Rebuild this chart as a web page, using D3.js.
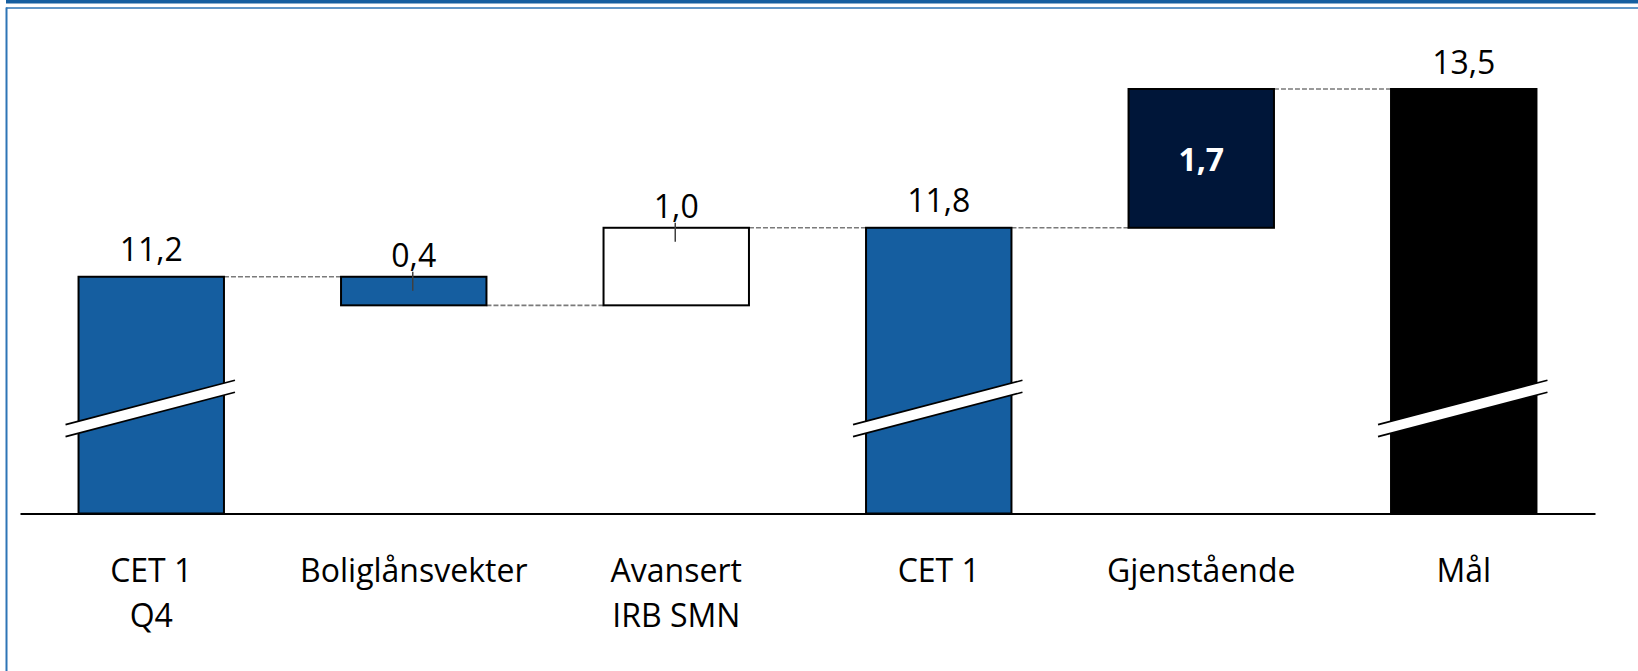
<!DOCTYPE html>
<html>
<head>
<meta charset="utf-8">
<script src="https://cdn.jsdelivr.net/npm/d3@7"></script>
<style>
  html, body { margin: 0; padding: 0; background: #fff; }
  svg { display: block; }
  svg text { font-family: "Open Sans", sans-serif; }
</style>
</head>
<body>
<div id="chart"></div>
<script>
// chart data
const categories = [["CET 1", "Q4"], ["Boliglånsvekter"], ["Avansert", "IRB SMN"], ["CET 1"], ["Gjenstående"], ["Mål"]];
const kinds = ["total", "delta", "delta", "total", "delta", "total"];
const values = [11.2, -0.35, 0.95, 11.8, 1.7, 13.5];
const valueLabels = ["11,2", "0,4", "1,0", "11,8", "1,7", "13,5"];
const axisBase = 8.3;

// styles
const fills = ["#155ea0", "#155ea0", "#ffffff", "#155ea0", "#001639", "#000000"];
const W = 1638, H = 671;
const fontSize = 32;

const svg = d3.select("#chart").append("svg")
    .attr("width", W)
    .attr("height", H);

// frame
svg.append("rect").attr("x", 6).attr("y", 0).attr("width", W - 6).attr("height", 3.5).attr("fill", "#155ea0");
svg.append("line").attr("x1", 6).attr("x2", W).attr("y1", 8).attr("y2", 8)
    .attr("stroke", "#2e75b6").attr("stroke-width", 1.5);
svg.append("line").attr("x1", 6.5).attr("x2", 6.5).attr("y1", 7.5).attr("y2", H)
    .attr("stroke", "#2e75b6").attr("stroke-width", 2);

const idx = categories.map((d, i) => i);
const x = d3.scaleBand()
    .domain(idx)
    .range([20, 1595])
    .paddingInner(0.446)
    .paddingOuter(0.223);
const y = d3.scaleLinear()
    .domain([axisBase, 13.5])
    .range([513.5, 89]);

// running totals for the waterfall
let running = 0;
const bars = values.map((v, i) => {
    let lo, hi, end;
    if (kinds[i] === "total") {
        lo = axisBase; hi = v; end = v;
    } else {
        lo = Math.min(running, running + v);
        hi = Math.max(running, running + v);
        end = running + v;
    }
    running = end;
    return { i, lo, hi, end, kind: kinds[i] };
});

// connectors
const g = svg.append("g");
g.selectAll("line.conn")
    .data(bars.slice(0, -1))
    .enter().append("line")
    .attr("class", "conn")
    .attr("x1", d => x(d.i) + x.bandwidth())
    .attr("x2", d => x(d.i + 1))
    .attr("y1", d => y(d.end))
    .attr("y2", d => y(d.end))
    .attr("stroke", "#7a7a7a")
    .attr("stroke-width", 1.6)
    .attr("stroke-dasharray", "5,2");

// bars
g.selectAll("rect.bar")
    .data(bars)
    .enter().append("rect")
    .attr("class", "bar")
    .attr("x", d => x(d.i))
    .attr("y", d => y(d.hi))
    .attr("width", x.bandwidth())
    .attr("height", d => y(d.lo) - y(d.hi))
    .attr("fill", d => fills[d.i])
    .attr("stroke", "#000")
    .attr("stroke-width", 2);

// axis break marks on the total bars
const slope = 0.262, half = 6;
const breakAt = 9.59;
const breaks = g.selectAll("g.brk")
    .data(bars.filter(d => d.kind === "total"))
    .enter().append("g")
    .attr("class", "brk");
function breakPts(d, off) {
    const cx = x(d.i) + x.bandwidth() / 2;
    const xl = x(d.i) - 13, xr = x(d.i) + x.bandwidth() + 11;
    const yc = y(breakAt);
    return [[xl, yc + slope * (cx - xl) + off], [xr, yc - slope * (xr - cx) + off]];
}
breaks.append("path")
    .attr("d", d => {
        const a = breakPts(d, -half), b = breakPts(d, half);
        return d3.line()([a[0], a[1], b[1], b[0]]) + "Z";
    })
    .attr("fill", "#fff");
[-half, half].forEach(off => {
    breaks.append("path")
        .attr("d", d => d3.line()(breakPts(d, off)))
        .attr("stroke", "#000")
        .attr("stroke-width", 1.6)
        .attr("fill", "none");
});

// small leader ticks on the outside delta labels
const outsideDeltas = bars.filter(d => d.kind === "delta" && d.i !== 4);
g.selectAll("line.tick")
    .data(outsideDeltas)
    .enter().append("line")
    .attr("x1", d => x(d.i) + x.bandwidth() / 2 - 1)
    .attr("x2", d => x(d.i) + x.bandwidth() / 2 - 1)
    .attr("y1", d => y(d.hi) - 5)
    .attr("y2", d => y(d.hi) + 14)
    .attr("stroke", "#404040")
    .attr("stroke-width", 1.5);

// value labels
g.selectAll("text.val")
    .data(bars)
    .enter().append("text")
    .attr("class", "val")
    .attr("x", d => x(d.i) + x.bandwidth() / 2)
    .attr("y", d => {
        if (d.i === 4) return (y(d.hi) + y(d.lo)) / 2 + 13;
        return d.kind === "total" ? y(d.hi) - 15.5 : y(d.hi) - 10;
    })
    .attr("text-anchor", "middle")
    .attr("font-size", fontSize)
    .attr("font-weight", d => d.i === 4 ? "bold" : "normal")
    .attr("fill", d => d.i === 4 ? "#fff" : "#000")
    .text(d => valueLabels[d.i]);

// category axis
const axis = svg.append("g")
    .attr("transform", "translate(0,513.5)")
    .call(d3.axisBottom(x).tickSize(0).tickSizeOuter(0).tickFormat(""));
axis.attr("font-family", null);
axis.select(".domain").attr("stroke", "#000").attr("stroke-width", 2);
axis.selectAll(".tick").each(function(d) {
    const t = d3.select(this).append("text")
        .attr("fill", "#000")
        .attr("text-anchor", "middle")
        .attr("font-size", fontSize)
        .attr("y", 68);
    categories[d].forEach((line, k) => {
        t.append("tspan").attr("x", 0).attr("y", 68 + k * 45).text(line);
    });
});
</script>
</body>
</html>
